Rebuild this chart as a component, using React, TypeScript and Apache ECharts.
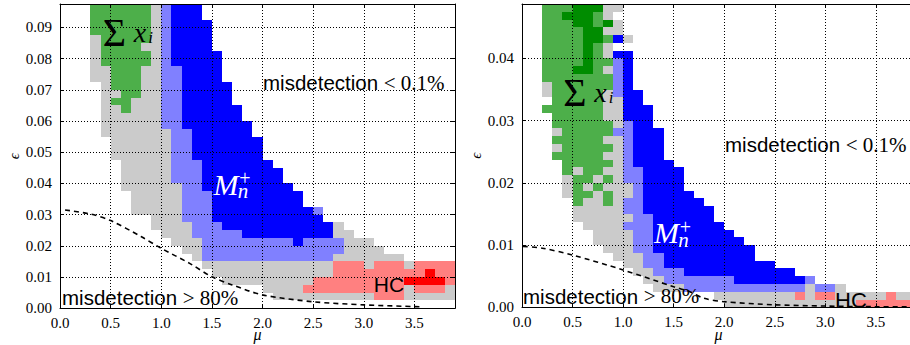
import React, { useEffect, useRef } from 'react';
import * as echarts from 'echarts';

// ---- data ----
// cell codes: g gray, G green, D dark green, b light blue, B blue, r light red, R red (unlisted = white)
// each row string lists column ranges (column c spans mu in [0.1c, 0.1c+0.1]); rows go from top to bottom
const LEFT_ROWS: string[] = [
  '3-8G 9g 10b 11-13B',
  '3-8G 9g 10b 11-13B',
  '3-8G 9g 10b 11-14B',
  '3-8G 9g 10b 11-14B',
  '3g 4-8G 9g 10b 11-14B',
  '3g 4-7G 8-9g 10b 11-14B',
  '3g 4-8G 9g 10b 11-15B',
  '3g 4-8G 9g 10b 11-15B',
  '3-4g 5-7G 8-9g 10-11b 12-15B',
  '3-4g 5-7G 8-9g 10-11b 12-15B',
  '4g 5-7G 8-9g 10-11b 12-16B',
  '4-5g 6-7G 8-9g 10-11b 12-16B',
  '4g 5-6G 7-9g 10-11b 12-16B',
  '4-5g 6G 7-9g 10-11b 12-17B',
  '4-9g 10-11b 12-17B',
  '4-9g 10-11b 12-18B',
  '4-10g 11-12b 13-18B',
  '5-10g 11-12b 13-19B',
  '5-10g 11-12b 13-19B',
  '5-10g 11-12b 13-19B',
  '6-10g 11-13b 14-20B',
  '6-10g 11-13b 14-21B',
  '6-10g 11-13b 14-21B',
  '6-11g 12-13b 14-22B',
  '7-11g 12-14b 15-23B',
  '7-11g 12-14b 15-23B',
  '7-11g 12-14b 15-24B 25b',
  '9-11g 12-14b 15-25B',
  '9-12g 13-15b 16-26B 27g',
  '10-12g 13-17b 18-26B 27-28g',
  '11-13g 14-22b 23B 24-27b 28-30g',
  '12-13g 14-27b 28-31g',
  '13g 14-26b 27-33g',
  '14-26g 27-29r 30g 31-33r 34g 35-38r',
  '15-26g 27-35r 36R 37-38r',
  '16-24g 25-33r 34-37R 38r',
  '20-23g 24-33r 34g 35-37r 38g',
  '21-30g 31-33r 34-38g',
  '',
];

const RIGHT_ROWS: string[] = [
  '2-4G 5-7D 8-9g',
  '2-3G 4-6D 7G 8g',
  '2-4G 5-6D 7G 8D 9g',
  '2-5G 6-7D 8-9g',
  '2-5G 6-7D 8G 9B 10g',
  '2-5G 6D 7G 8g',
  '2-5G 6D 7G 8g 9-10B',
  '2-5G 6D 7-8G 9b 10B',
  '2-4G 5-6D 7G 8g 9b 10B',
  '2-8G 9b 10B',
  '2g 3-8G 9b 10B',
  '2g 3-7G 8g 9b 10-11B',
  '3-7G 8-9g 10-11B',
  '2-7G 8-9g 10-12B',
  '3-7G 8-9g 10-12B',
  '3-8G 9g 10b 11-12B',
  '3g 4-8G 9-10b 11-13B',
  '3-7G 8-9g 10b 11-13B',
  '3g 4-8G 9g 10b 11-13B',
  '3-7G 8-9g 10b 11-13B',
  '4-8G 9g 10b 11-14B',
  '4G 5g 6-7G 8-9g 10-11b 12-15B',
  '4g 5-6G 7g 8G 9g 10-11b 12-15B',
  '4g 5G 6g 7G 8-10g 11b 12-15B',
  '4g 5-6G 7g 8G 9-10g 11b 12-16B',
  '5G 6-7g 8G 9g 10-11b 12-17B',
  '5-9g 10-11b 12-18B',
  '5-10g 11-12b 13-18B',
  '6-9g 10-12b 13-19B',
  '7-10g 11-12b 13-20B',
  '7-10g 11-12b 13-21B',
  '8-10g 11-12b 13-22B',
  '9-11g 12-13b 14-22B',
  '10-11g 12-13b 14-24B',
  '11-12g 13-15b 16-26B',
  '12-13g 14-20b 21-27B 28b',
  '13-15g 16-27b 28g 29-30b 31g',
  '19-26g 27r 28g 29-30r 31-35g 36r 37-38g',
  '20-32g 33-38r',
];

const CODES = 'gGDbBrR';
const CODE_COLORS = ['#cbcbcb', '#4daf4a', '#008c00', '#8080ff', '#0000ff', '#ff8080', '#ff0000'];

const MU_STEP = 0.1;
const LEFT_EPS_STEP = 0.0025;
const RIGHT_EPS_STEP = 0.00125;
const MU_MAX = 3.9;
const LEFT_EPS_MAX = 0.0975;
const RIGHT_EPS_MAX = 0.04875;

// dashed 80%-misdetection boundary
const LEFT_CURVE_MU = [0.05, 0.3, 0.5, 0.8, 1.0, 1.28, 1.5, 1.7, 2.0, 2.5, 3.0, 3.55];
const LEFT_CURVE_EPS = [0.0315, 0.0302, 0.0281, 0.023, 0.0192, 0.0144, 0.0101, 0.0075, 0.0043, 0.0021, 0.0011, 0.0005];
const RIGHT_CURVE_MU = [0.01, 0.2, 0.5, 1.0, 1.5, 1.66, 1.8, 2.0, 2.5, 3.0, 3.5, 3.9];
const RIGHT_CURVE_EPS = [0.0098, 0.0095, 0.0084, 0.006, 0.0033, 0.0025, 0.00145, 0.0009, 0.0004, 0.0002, 0.0001, 0.0001];

const SERIF = '"Liberation Serif", "DejaVu Serif", serif';
const SANS = '"Liberation Sans", Arial, sans-serif';

function parseRows(rows: string[], epsStep: number): number[][] {
  const out: number[][] = [];
  const n = rows.length;
  rows.forEach((row, t) => {
    row.split(/\s+/).filter(Boolean).forEach((tok) => {
      const m = tok.match(/^(\d+)(?:-(\d+))?([a-zA-Z])$/);
      if (!m) return;
      const a = +m[1];
      const b = m[2] ? +m[2] : a;
      const code = CODES.indexOf(m[3]);
      for (let c = a; c <= b; c++) out.push([c * MU_STEP, (n - 1 - t) * epsStep, code]);
    });
  });
  return out;
}

function cellSeries(data: number[][], epsStep: number, axisIndex: number) {
  return {
    type: 'custom',
    xAxisIndex: axisIndex,
    yAxisIndex: axisIndex,
    dimensions: ['mu', 'eps', 'code'],
    encode: { x: 0, y: 1 },
    data,
    z: 2,
    renderItem: (_params: any, api: any) => {
      const x = api.value(0);
      const y = api.value(1);
      const p0 = api.coord([x, y + epsStep]);
      const p1 = api.coord([x + MU_STEP, y]);
      const x0 = Math.round(p0[0]);
      const y0 = Math.round(p0[1]);
      const x1 = Math.round(p1[0]);
      const y1 = Math.round(p1[1]);
      return {
        type: 'rect',
        shape: { x: x0, y: y0, width: x1 - x0, height: y1 - y0 },
        style: { fill: CODE_COLORS[api.value(2)] },
      };
    },
  };
}

function curveSeries(mu: number[], eps: number[], axisIndex: number) {
  return {
    type: 'line',
    xAxisIndex: axisIndex,
    yAxisIndex: axisIndex,
    data: mu.map((m, i) => [m, eps[i]]),
    showSymbol: false,
    smooth: 0.3,
    z: 4,
    lineStyle: { color: '#000', width: 1.6, type: [5, 4] },
  };
}

function xAxis(gridIndex: number, position: string, main: boolean) {
  return {
    type: 'value',
    gridIndex,
    position,
    min: 0,
    max: MU_MAX,
    interval: 0.5,
    z: 5,
    axisLine: { show: true, onZero: false, lineStyle: { color: '#000', width: 1 } },
    axisTick: { show: true, inside: true, length: 4, lineStyle: { color: '#000' } },
    axisLabel: {
      show: main,
      showMaxLabel: false,
      margin: 7,
      color: '#000',
      fontFamily: SERIF,
      fontSize: 15,
      formatter: (v: number) => v.toFixed(1),
    },
    splitLine: { show: main, lineStyle: { color: '#000', width: 1, type: [1, 2] } },
  };
}

function yAxis(gridIndex: number, position: string, main: boolean, max: number) {
  return {
    type: 'value',
    gridIndex,
    position,
    min: 0,
    max,
    interval: 0.01,
    z: 5,
    name: main ? 'ϵ' : '',
    nameLocation: 'middle',
    nameGap: 38,
    nameRotate: 90,
    nameTextStyle: { fontFamily: SERIF, fontStyle: 'italic', fontSize: 15, color: '#000' },
    axisLine: { show: true, onZero: false, lineStyle: { color: '#000', width: 1 } },
    axisTick: { show: true, inside: true, length: 4, lineStyle: { color: '#000' } },
    axisLabel: {
      show: main,
      showMaxLabel: false,
      margin: 8,
      color: '#000',
      fontFamily: SERIF,
      fontSize: 15,
      formatter: (v: number) => v.toFixed(2),
    },
    splitLine: { show: main, lineStyle: { color: '#000', width: 1, type: [1, 2] } },
  };
}

function txt(x: number, y: number, text: string, style: any) {
  return {
    type: 'text',
    x,
    y,
    z: 10,
    style: { text, fill: '#000', align: 'center', verticalAlign: 'middle', ...style },
  };
}

function misText(x: number, y: number, rel: string) {
  return {
    type: 'text',
    x,
    y,
    z: 10,
    style: {
      text: `{s|misdetection} {m|${rel}}`,
      align: 'left',
      verticalAlign: 'middle',
      fill: '#000',
      fontFamily: SANS,
      fontSize: 20.5,
      rich: {
        s: { fontFamily: SANS, fontSize: 20.5, fill: '#000' },
        m: { fontFamily: SERIF, fontSize: 21, fill: '#000' },
      },
    },
  };
}

function sumLabel(cx: number, cy: number) {
  return [
    txt(cx, cy, 'Σ', { fontFamily: SERIF, fontSize: 40 }),
    txt(cx + 25.5, cy - 0.5, 'x', { fontFamily: SERIF, fontStyle: 'italic', fontSize: 28 }),
    txt(cx + 36, cy + 5, 'i', { fontFamily: SERIF, fontStyle: 'italic', fontSize: 17 }),
  ];
}

function mLabel(cx: number, cy: number) {
  return [
    txt(cx, cy, 'M', { fontFamily: SERIF, fontStyle: 'italic', fontSize: 30, fill: '#fff' }),
    txt(cx + 17, cy + 7, 'n', { fontFamily: SERIF, fontStyle: 'italic', fontSize: 21, fill: '#fff' }),
    txt(cx + 19, cy - 6, '+', { fontFamily: SERIF, fontSize: 20, fill: '#fff' }),
  ];
}

export default function App() {
  const ref = useRef<HTMLDivElement>(null);
  useEffect(() => {
    if (!ref.current) return;
    const chart = echarts.init(ref.current, undefined, { renderer: 'svg' });
    const leftCells = parseRows(LEFT_ROWS, LEFT_EPS_STEP);
    const rightCells = parseRows(RIGHT_ROWS, RIGHT_EPS_STEP);
    chart.setOption({
      animation: false,
      backgroundColor: '#fff',
      grid: [
        { left: 60, top: 4, width: 395, height: 304.3, outerBoundsMode: 'none', containLabel: false },
        { left: 522, top: 4, width: 394.3, height: 303.3, outerBoundsMode: 'none', containLabel: false },
      ],
      xAxis: [xAxis(0, 'bottom', true), xAxis(0, 'top', false), xAxis(1, 'bottom', true), xAxis(1, 'top', false)],
      yAxis: [
        yAxis(0, 'left', true, LEFT_EPS_MAX),
        yAxis(0, 'right', false, LEFT_EPS_MAX),
        yAxis(1, 'left', true, RIGHT_EPS_MAX),
        yAxis(1, 'right', false, RIGHT_EPS_MAX),
      ],
      series: [
        cellSeries(leftCells, LEFT_EPS_STEP, 0),
        cellSeries(rightCells, RIGHT_EPS_STEP, 2),
        curveSeries(LEFT_CURVE_MU, LEFT_CURVE_EPS, 0),
        curveSeries(RIGHT_CURVE_MU, RIGHT_CURVE_EPS, 2),
      ],
      graphic: [
        ...sumLabel(114.5, 32.5),
        ...sumLabel(575, 92.5),
        ...mLabel(226, 184),
        ...mLabel(666.5, 232.5),
        txt(389, 284, 'HC', { fontFamily: SANS, fontSize: 21 }),
        txt(851, 300, 'HC', { fontFamily: SANS, fontSize: 22 }),
        misText(263, 82.7, '< 0.1%'),
        misText(725, 144.7, '< 0.1%'),
        misText(62, 297.7, '> 80%'),
        misText(523, 296, '> 80%'),
        txt(257.5, 334, 'μ', { fontFamily: SERIF, fontStyle: 'italic', fontSize: 16 }),
        txt(718.5, 334, 'μ', { fontFamily: SERIF, fontStyle: 'italic', fontSize: 16 }),
      ],
    });
    return () => chart.dispose();
  }, []);
  return (
    <div
      ref={ref}
      style={{ position: 'absolute', left: 0, top: 0, width: 910, height: 345, background: '#fff' }}
    />
  );
}
